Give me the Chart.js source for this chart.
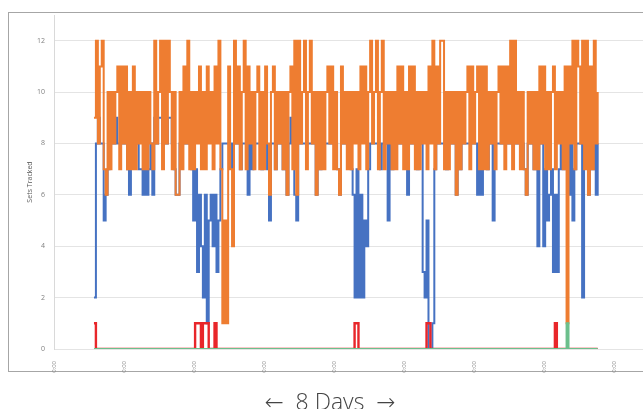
<!DOCTYPE html>
<html>
<head>
<meta charset="utf-8">
<script src="https://cdn.jsdelivr.net/npm/chart.js@4/dist/chart.umd.min.js"></script>
<style>
    html, body { margin: 0; background: #fff; width: 643px; height: 409px; overflow: hidden; }
    #frame { position: absolute; left: 8px; top: 12px; width: 660px; height: 358px; border: 1px solid #a6a6a6; }
    #chart { position: absolute; left: 0; top: 0; }
    #caption { position: absolute; left: 0; top: 385px; width: 660px; text-align: center;
               font: 300 23px "Open Sans", "DejaVu Sans", sans-serif; color: #444; white-space: pre; }
</style>
</head>
<body>
<div id="frame"></div>
<canvas id="chart" width="643" height="409"></canvas>
<div id="caption">←&nbsp;&nbsp;8 Days&nbsp;&nbsp;→</div>
<script>
// readings every 40 minutes, first one in the afternoon of day 1
const startHour = 13.7;
const stepHours = 2 / 3;
const dayTicks = [0, 24, 48, 72, 96, 120, 144, 168, 192];
const yTicks = [0, 2, 4, 6, 8, 10, 12];

const orangeSets = [
    9,12,8,11,12,7,6,10,7,10, 8,10,11,7,11,8,11,7,10,7,
    11,7,10,8,10,7,10,7,10,8, 7,12,8,10,12,7,12,8,12,10,
    7,10,6,6,10,7,11,8,12,7, 10,7,10,8,11,7,10,7,11,8,
    10,7,11,8,12,7,1,5,1,11, 7,4,12,8,11,7,10,12,7,11,
    8,10,7,10,11,7,10,7,11,8, 6,10,11,7,10,8,10,7,10,6,
    10,11,7,12,6,12,8,10,12,7, 10,12,8,10,6,10,7,10,7,10,
    11,8,11,7,10,7,6,11,8,10, 7,10,7,10,8,10,7,11,8,11,
    7,10,12,8,10,12,7,10,12,7, 10,8,10,7,10,7,11,8,11,7,
    10,7,11,8,11,7,10,7,10,8, 10,7,11,8,12,7,11,8,12,12,
    7,10,7,10,8,10,6,10,7,10, 8,10,11,7,11,8,10,11,7,11,
    7,11,7,10,8,10,7,10,11,8, 11,7,11,8,12,7,12,8,10,7,
    10,7,6,10,8,10,7,10,7,11, 8,11,7,10,7,10,11,7,10,8,
    10,7,11,1,11,8,12,7,12,11, 8,12,7,12,6,11,7,12,8,10
];

const blueSets = [
    2,8,9,8,8,5,6,7,8,8, 8,9,8,8,9,8,8,7,6,8,
    8,8,8,7,7,6,8,6,7,8, 6,9,8,9,9,8,9,8,9,9,
    8,7,6,6,8,8,8,8,8,8, 7,5,7,3,6,4,2,6,1,5,
    6,4,6,3,5,7,8,8,8,8, 8,7,8,8,8,7,8,8,8,6,
    8,7,8,8,8,8,7,8,8,7, 5,8,8,7,8,8,8,7,8,6,
    8,9,8,6,5,8,8,8,8,8, 8,8,8,8,6,8,7,8,8,8,
    8,8,8,8,8,7,6,8,8,8, 8,8,7,6,2,7,2,6,2,5,
    4,7,8,8,8,8,8,7,8,8, 8,5,8,7,8,8,8,8,8,8,
    8,6,8,8,8,8,7,8,8,3, 2,5,0,0,1,7,8,8,8,8,
    8,7,8,8,8,8,6,8,7,8, 8,8,8,8,8,8,8,6,8,6,
    8,8,7,8,8,5,8,8,8,8, 8,8,8,8,8,8,8,8,8,8,
    8,7,6,8,8,8,7,8,4,8, 8,4,7,5,6,7,3,6,3,7,
    8,7,8,8,6,8,5,7,8,8, 8,2,8,8,6,8,7,8,6,8
];

const redSets = [
    1,0,0,0,0,0,0,0,0,0,0,0,0,0,0,0,0,0,0,0,
    0,0,0,0,0,0,0,0,0,0,0,0,0,0,0,0,0,0,0,0,
    0,0,0,0,0,0,0,0,0,0,0,0,1,1,1,0,1,1,1,0,
    0,0,1,0,0,0,0,0,0,0,0,0,0,0,0,0,0,0,0,0,
    0,0,0,0,0,0,0,0,0,0,0,0,0,0,0,0,0,0,0,0,
    0,0,0,0,0,0,0,0,0,0,0,0,0,0,0,0,0,0,0,0,
    0,0,0,0,0,0,0,0,0,0,0,0,0,0,1,1,0,0,0,0,
    0,0,0,0,0,0,0,0,0,0,0,0,0,0,0,0,0,0,0,0,
    0,0,0,0,0,0,0,0,0,0,0,1,1,0,0,0,0,0,0,0,
    0,0,0,0,0,0,0,0,0,0,0,0,0,0,0,0,0,0,0,0,
    0,0,0,0,0,0,0,0,0,0,0,0,0,0,0,0,0,0,0,0,
    0,0,0,0,0,0,0,0,0,0,0,0,0,0,0,0,0,1,0,0,
    0,0,0,0,0,0,0,0,0,0,0,0,0,0,0,0,0,0,0,0
];

const greenSets = [
    0,0,0,0,0,0,0,0,0,0,0,0,0,0,0,0,0,0,0,0,
    0,0,0,0,0,0,0,0,0,0,0,0,0,0,0,0,0,0,0,0,
    0,0,0,0,0,0,0,0,0,0,0,0,0,0,0,0,0,0,0,0,
    0,0,0,0,0,0,0,0,0,0,0,0,0,0,0,0,0,0,0,0,
    0,0,0,0,0,0,0,0,0,0,0,0,0,0,0,0,0,0,0,0,
    0,0,0,0,0,0,0,0,0,0,0,0,0,0,0,0,0,0,0,0,
    0,0,0,0,0,0,0,0,0,0,0,0,0,0,0,0,0,0,0,0,
    0,0,0,0,0,0,0,0,0,0,0,0,0,0,0,0,0,0,0,0,
    0,0,0,0,0,0,0,0,0,0,0,0,0,0,0,0,0,0,0,0,
    0,0,0,0,0,0,0,0,0,0,0,0,0,0,0,0,0,0,0,0,
    0,0,0,0,0,0,0,0,0,0,0,0,0,0,0,0,0,0,0,0,
    0,0,0,0,0,0,0,0,0,0,0,0,0,0,0,0,0,0,0,0,
    0,0,0,1,0,0,0,0,0,0,0,0,0,0,0,0,0,0,0,0
];

const pts = vals => vals.map((v, i) => ({ x: startHour + i * stepHours, y: v }));

function series(label, vals, color, width) {
    return {
        label: label,
        data: pts(vals),
        borderColor: color,
        borderWidth: width,
        pointRadius: 0,
        stepped: true,
        fill: false
    };
}

// first dataset is painted last (on top)
new Chart(document.getElementById('chart'), {
    type: 'line',
    data: {
        datasets: [
            series('Green', greenSets, '#6cbf8c', 2),
            series('Red', redSets, '#e8262a', 2.4),
            series('Orange', orangeSets, '#ee7d31', 2),
            series('Blue', blueSets, '#4672c2', 2)
        ]
    },
    options: {
        responsive: false,
        animation: false,
        layout: { padding: { left: 20, top: 15, right: 0, bottom: 0 } },
        plugins: { legend: { display: false }, tooltip: { enabled: false } },
        scales: {
            x: {
                type: 'linear',
                min: 0,
                max: 201.9,
                afterBuildTicks: s => { s.ticks = dayTicks.map(v => ({ value: v })); },
                afterFit: s => { s.height = 60; },
                grid: { display: false },
                border: { display: false },
                ticks: {
                    callback: () => '0:00',
                    minRotation: 90,
                    maxRotation: 90,
                    padding: 4,
                    font: { family: 'Open Sans', size: 6 },
                    color: '#8c8c8c'
                }
            },
            y: {
                min: 0,
                max: 13,
                afterBuildTicks: s => { s.ticks = yTicks.map(v => ({ value: v })); },
                afterFit: s => { s.width = 34; },
                grid: { color: '#e4e4e4', lineWidth: 1, drawTicks: false },
                border: { color: '#d9d9d9' },
                ticks: {
                    padding: 9,
                    font: { family: 'Open Sans', size: 7 },
                    color: '#7f7f7f'
                },
                title: {
                    display: true,
                    text: 'Sets Tracked',
                    padding: { top: 6, bottom: 0 },
                    font: { family: 'Open Sans', size: 7 },
                    color: '#595959'
                }
            }
        }
    }
});
</script>
</body>
</html>
